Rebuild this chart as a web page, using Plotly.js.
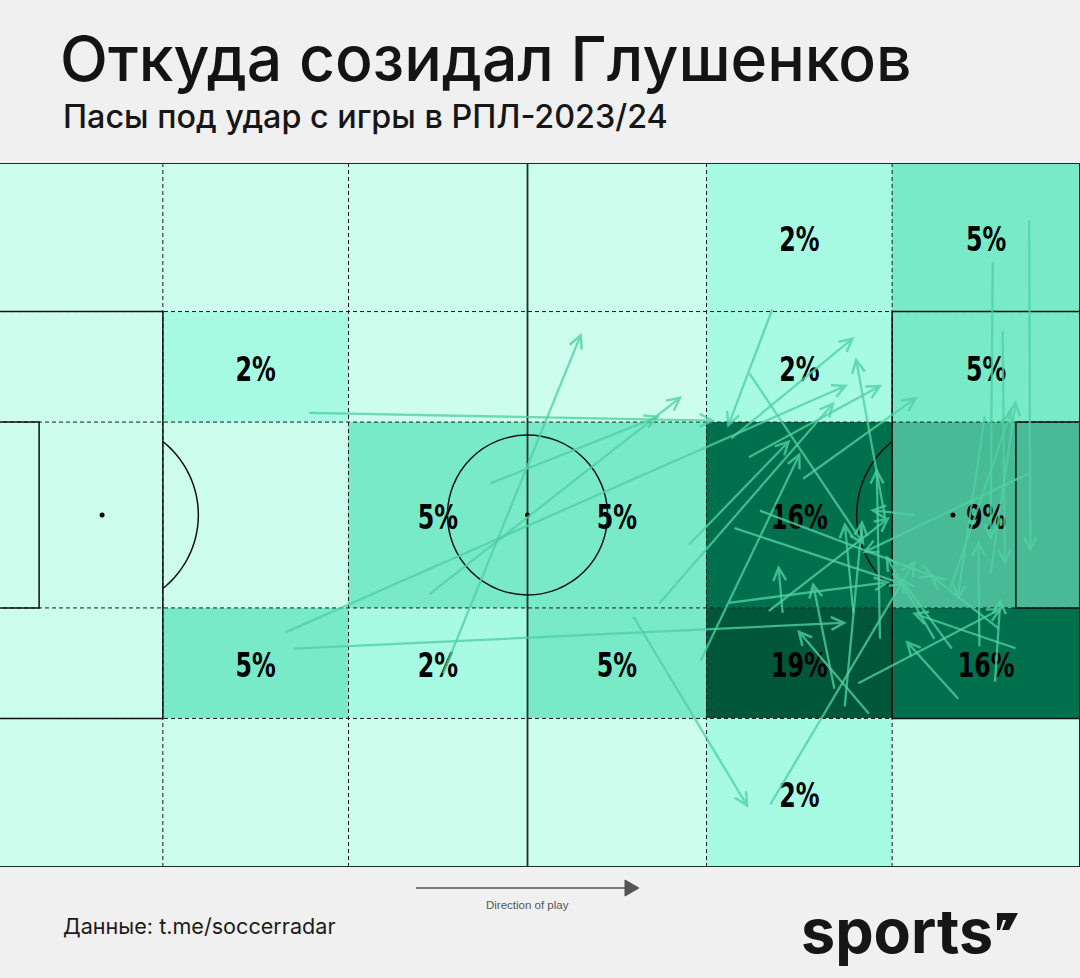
<!DOCTYPE html>
<html>
<head>
<meta charset="utf-8">
<script src="https://cdn.plot.ly/plotly-3.0.1.min.js"></script>
<style>
  html, body { margin: 0; padding: 0; background: #f0f0f0; }
  #chart { width: 1080px; height: 978px; }
</style>
</head>
<body>
<div id="chart"></div>
<script>
// ---- Data (Opta pitch coordinates: x 0..100 towards goal, y 0..100 from top touchline) ----
const colEdges = [0, 17, 33.8, 50, 66.2, 83, 100];
const rowEdges = [0, 21.1, 36.8, 63.2, 78.9, 100];

// share of passes started in each zone, per horizontal band (top to bottom), %
const pctTopWing    = [0, 0, 0, 0, 2, 5];
const pctTopHalf    = [0, 2, 0, 0, 2, 5];
const pctCentre     = [0, 0, 5, 5, 16, 9];
const pctBottomHalf = [0, 5, 2, 5, 19, 16];
const pctBottomWing = [0, 0, 0, 0, 2, 0];

// shot-assist passes: start and end points
const startX = [30.1,27.9,28.7,42.3,46.5,41.0,61.8,64.5,59.5,65.6,72.2,70.0,71.9,92.1,95.4,91.4,93.0,70.9,68.6,69.9,74.8,68.3,82.4,68.1,73.1,79.5,79.8,81.0,78.7,77.8,71.7,81.9,85.2,95.5,88.2,91.9,94.3,88.5,90.9,92.3,86.9,92.8,89.1];
const startY = [35.5,66.8,69.0,72.7,45.6,61.4,62.8,54.4,64.2,70.9,20.6,29.7,91.3,13.8,8.0,35.8,23.7,49.3,51.8,41.9,45.0,39.3,50.7,62.5,64.1,64.1,74.0,78.4,77.4,74.9,63.8,67.8,50.0,44.0,60.7,58.5,69.0,69.2,68.9,73.9,67.8,66.3,76.3];
const endX   = [67.0,79.0,78.9,54.9,62.0,64.0,77.8,73.8,70.0,74.7,68.1,80.5,85.1,91.9,95.5,88.9,93.2,86.9,84.2,82.1,85.3,79.6,79.7,82.8,72.7,78.7,93.0,74.4,80.3,75.8,82.8,81.6,81.0,80.3,93.8,94.2,84.8,83.7,90.8,92.8,82.4,86.4,84.2];
const endY   = [36.6,31.5,65.3,24.1,35.9,33.1,33.9,39.3,91.6,41.1,37.6,54.3,56.4,53.6,55.3,62.1,57.1,58.8,59.9,31.5,33.2,24.7,27.6,59.5,57.1,51.0,63.2,66.3,50.7,59.5,50.3,43.3,49.3,55.4,35.1,33.7,63.9,58.9,53.6,61.8,55.7,58.5,67.8];

const titleText = 'Откуда созидал Глушенков';
const subtitleText = 'Пасы под удар с игры в РПЛ-2023/24';
const sourceText = 'Данные: t.me/soccerradar';
const directionText = 'Direction of play';
const logoText = 'sports';

// ---- Build ----
const zRows = [pctTopWing, pctTopHalf, pctCentre, pctBottomHalf, pctBottomWing];
const colorscale = [
  [0, '#cdfded'],
  [2/19, '#a7fbe2'],
  [5/19, '#78eac8'],
  [9/19, '#48bb96'],
  [16/19, '#00704c'],
  [1, '#005639']
];

const heat = {
  type: 'heatmap',
  x: colEdges, y: rowEdges, z: zRows,
  zmin: 0, zmax: 19, colorscale: colorscale,
  showscale: false, hoverinfo: 'skip', xgap: 0, ygap: 0
};

const labelNudge = 0.7; // small downward optical offset (y units)
const lx = [], ly = [], lt = [];
zRows.forEach((row, r) => row.forEach((v, c) => {
  if (v > 0) {
    lx.push((colEdges[c] + colEdges[c+1]) / 2);
    ly.push((rowEdges[r] + rowEdges[r+1]) / 2 + labelNudge);
    lt.push(v + '%');
  }
}));
const labels = {
  type: 'scatter', mode: 'text', x: lx, y: ly, text: lt,
  textposition: 'middle center',
  textfont: { family: 'DejaVu Sans Condensed, Liberation Sans Narrow, sans-serif', size: 30, color: '#000000', weight: 700 },
  hoverinfo: 'skip', showlegend: false
};

// ---- Pitch markings ----
const LINE = '#111111';
const shapes = [];
function seg(x0, y0, x1, y1, opts) {
  shapes.push(Object.assign({ type: 'line', xref: 'x', yref: 'y', x0, y0, x1, y1,
    line: { color: LINE, width: 1.5 } }, opts || {}));
}
// dashed zone grid
[17, 33.8, 66.2, 83].forEach(x => seg(x, 0, x, 100, { line: { color: '#1a1a1a', width: 1, dash: '4px,3px' } }));
[21.1, 36.8, 63.2, 78.9].forEach(y => seg(0, y, 100, y, { line: { color: '#1a1a1a', width: 1, dash: '4px,3px' } }));
// boxes
function rect(x0, y0, x1, y1, col, w) {
  shapes.push({ type: 'rect', xref: 'x', yref: 'y', x0, y0, x1, y1,
    line: { color: col || LINE, width: w || 1.5 }, fillcolor: 'rgba(0,0,0,0)' });
}
rect(0, 21.1, 17, 78.9);
rect(83, 21.1, 100, 78.9);
rect(0, 36.8, 5.8, 63.2);
rect(94.2, 36.8, 100, 63.2);
// outline + halfway
rect(0, 0, 100, 100, '#163226', 2);
seg(50, 0, 50, 100, { line: { color: '#163226', width: 1.8 } });
// centre circle
shapes.push({ type: 'circle', xref: 'x', yref: 'y', x0: 50 - 7.24, x1: 50 + 7.24, y0: 50 - 11.36, y1: 50 + 11.36,
  line: { color: LINE, width: 1.5 } });
// spots
[[11.5, 50], [88.5, 50], [50, 50]].forEach(p => shapes.push({
  type: 'circle', xref: 'x', yref: 'y', xsizemode: 'pixel', ysizemode: 'pixel',
  xanchor: p[0], yanchor: p[1], x0: -2.5, x1: 2.5, y0: -2.5, y1: 2.5,
  fillcolor: '#000', line: { width: 0 } }));
// penalty arcs
function arc(cx, side) {
  const rx = 8.71, ry = 13.46;
  const a = Math.acos(5.5 / rx);
  let d = '';
  for (let i = 0; i <= 40; i++) {
    const t = -a + (2 * a) * i / 40;
    const x = cx + side * rx * Math.cos(t);
    const y = 50 + ry * Math.sin(t);
    d += (i === 0 ? 'M' : 'L') + x.toFixed(3) + ',' + y.toFixed(3);
  }
  shapes.push({ type: 'path', xref: 'x', yref: 'y', path: d, line: { color: LINE, width: 1.5 } });
}
arc(11.5, 1);
arc(88.5, -1);

// ---- Paper helpers (plot area: px 0..1080 horizontally, px 163..867 vertically) ----
const px = v => v / 1080;
const py = v => (867 - v) / 704;

// direction of play arrow
shapes.push({ type: 'line', xref: 'paper', yref: 'paper', x0: px(416), x1: px(626), y0: py(888), y1: py(888),
  line: { color: '#555555', width: 1.5 } });
shapes.push({ type: 'path', xref: 'paper', yref: 'paper',
  path: `M${px(625)},${py(880)} L${px(639)},${py(888)} L${px(625)},${py(896)} Z`,
  fillcolor: '#555555', line: { color: '#555555', width: 1 } });
// logo mark
shapes.push({ type: 'path', xref: 'paper', yref: 'paper',
  path: `M${px(997)},${py(913)} L${px(1018)},${py(913)} L${px(1009)},${py(930)} L${px(1002)},${py(930)} L${px(1006)},${py(920)} L${px(1003)},${py(920)} L${px(1000)},${py(930)} L${px(997)},${py(930)} Z`,
  fillcolor: '#161616', line: { width: 0 } });

// ---- Annotations ----
const annotations = [];
for (let i = 0; i < startX.length; i++) {
  annotations.push({
    x: endX[i], y: endY[i], ax: startX[i], ay: startY[i],
    xref: 'x', yref: 'y', axref: 'x', ayref: 'y',
    text: '', showarrow: true, arrowhead: 5, arrowsize: 1.1, arrowwidth: 2.3,
    arrowcolor: 'rgba(80,208,162,0.78)', standoff: 0, startstandoff: 0
  });
}
annotations.push({ xref: 'paper', yref: 'paper', x: px(61), y: py(116), xanchor: 'left', yanchor: 'middle',
  text: subtitleText, showarrow: false,
  font: { family: 'Inter, Roboto, sans-serif', size: 32.3, color: '#161616', weight: 500 } });
annotations.push({ xref: 'paper', yref: 'paper', x: px(61), y: py(926), xanchor: 'left', yanchor: 'middle',
  text: sourceText, showarrow: false,
  font: { family: 'Inter, Roboto, sans-serif', size: 21.6, color: '#1c1c1c', weight: 400 } });
annotations.push({ xref: 'paper', yref: 'paper', x: px(527), y: py(905), xanchor: 'center', yanchor: 'middle',
  text: directionText, showarrow: false,
  font: { family: 'Liberation Sans, Arial, sans-serif', size: 11.5, color: '#555555' } });
annotations.push({ xref: 'paper', yref: 'paper', x: px(799), y: py(931), xanchor: 'left', yanchor: 'middle',
  text: logoText, showarrow: false,
  font: { family: 'Inter, Roboto, sans-serif', size: 61, color: '#161616', weight: 700 } });

const layout = {
  width: 1080, height: 978,
  margin: { l: 0, r: 0, t: 163, b: 111, pad: 0 },
  paper_bgcolor: '#f0f0f0', plot_bgcolor: '#f0f0f0',
  title: {
    text: titleText, x: px(60), xanchor: 'left', xref: 'container',
    y: 1 - 59 / 978, yanchor: 'middle', yref: 'container',
    font: { family: 'Inter, Roboto, sans-serif', size: 62.5, color: '#141414', weight: 500 }
  },
  xaxis: { range: [2.26, 100], visible: false, fixedrange: true },
  yaxis: { range: [100, 0], visible: false, fixedrange: true },
  showlegend: false,
  shapes: shapes,
  annotations: annotations
};

Plotly.newPlot('chart', [heat, labels], layout, { staticPlot: true, displayModeBar: false }).then(gd => {
  // condense the zone labels (narrow, tall numerals as in the original)
  gd.querySelectorAll('.scatterlayer .textpoint text').forEach(t => {
    const bb = t.getBBox();
    const cx = bb.x + bb.width / 2, cy = bb.y + bb.height / 2;
    t.setAttribute('transform', `translate(${cx},${cy}) scale(0.88,1.14) translate(${-cx},${-cy})`);
  });
});
</script>
</body>
</html>
